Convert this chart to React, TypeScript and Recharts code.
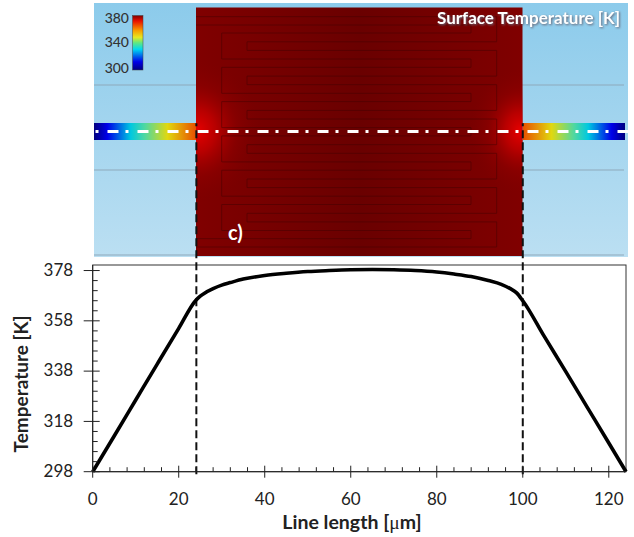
import React from "react";
import { ComposedChart, Line, XAxis, YAxis, ReferenceLine, Customized } from "recharts";

const lineLength = [0, 5, 10, 15, 20, 24, 25, 26, 28, 30, 32, 35, 40, 45, 50, 55, 60, 65, 70, 75, 80, 84, 88, 92, 95, 97, 98.5, 100, 105, 110, 115, 120, 124];
const temperature = [298, 312.2, 326.5, 340.8, 355, 366.2, 367.8, 369, 370.8, 372.2, 373.2, 374.6, 376, 376.9, 377.6, 378, 378.3, 378.4, 378.3, 378, 377.4, 376.6, 375.6, 374, 372.5, 370.9, 369.2, 366, 351.8, 337.8, 323.6, 309.4, 298];
const xTicks = [0, 4, 8, 12, 16, 20, 24, 28, 32, 36, 40, 44, 48, 52, 56, 60, 64, 68, 72, 76, 80, 84, 88, 92, 96, 100, 104, 108, 112, 116, 120];
const yTicks = [298, 302, 306, 310, 314, 318, 322, 326, 330, 334, 338, 342, 346, 350, 354, 358, 362, 366, 370, 374, 378];
const boundaries = [24.1, 100];
const colourbarLabels = ["380", "340", "300"];

const rows = lineLength.map((x, i) => ({ x, t: temperature[i] }));
const FONT = "Lato, 'Open Sans', sans-serif";

const XTick = ({ x, y, payload }: any) => {
  const major = payload.value % 20 === 0;
  return (
    <g>
      <line x1={x} x2={x} y1={major ? y - 6 : y - 4.5} y2={major ? y + 6 : y} stroke="#222" strokeWidth={1} />
      {major && (
        <text x={x} y={y + 33} textAnchor="middle" fontFamily={FONT} fontSize={17} fill="#222">
          {payload.value}
        </text>
      )}
    </g>
  );
};

const YTick = ({ x, y, payload }: any) => {
  const major = (payload.value - 298) % 20 === 0;
  return (
    <g>
      <line x1={major ? x - 9 : x} x2={x + (major ? 7 : 5)} y1={y} y2={y} stroke="#222" strokeWidth={1} />
      {major && (
        <text x={x - 19.5} y={y + 1} textAnchor="end" dominantBaseline="middle" fontFamily={FONT} fontSize={17} fill="#222">
          {payload.value}
        </text>
      )}
    </g>
  );
};

const Serpentine = () => {
  const s: React.ReactNode[] = [];
  const period = 34.3;
  const h = (y: number, a: number, b: number, k: string) => <line key={k} x1={a} x2={b} y1={y} y2={y} />;
  const v = (x: number, a: number, b: number, k: string) => <line key={k} x1={x} x2={x} y1={a} y2={b} />;
  s.push(h(16.7, 196, 496.7, "t1"), h(25, 196, 471, "t2"), h(238.7, 196, 471, "b1"), h(247, 196, 496.7, "b2"));
  s.push(v(496.7, 16.7, 41.7, "tv1"), v(471, 25, 33, "tv2"), v(496.7, 221.7, 247, "bv1"));
  for (let i = 0; i < 6; i++) {
    const o = i * period;
    s.push(h(33 + o, 221.7, 471, `a${i}`), h(59 + o, 221.7, 471, `b${i}`));
    s.push(h(41.8 + o, 247, 496.7, `c${i}`), h(50.4 + o, 247, 496.7, `d${i}`));
    s.push(v(221.7, 33 + o, 59 + o, `e${i}`), v(247, 41.8 + o, 50.4 + o, `f${i}`));
    s.push(v(471, 59 + o, 67.3 + o, `g${i}`));
    if (i < 5) s.push(v(496.7, 50.4 + o, 76.1 + o, `i${i}`));
  }
  return <g stroke="#3f0000" strokeWidth={0.8} opacity={0.6}>{s}</g>;
};

const Panel = () => (
  <g>
    <defs>
      <linearGradient id="sky" x1="0" x2="0" y1="0" y2="1">
        <stop offset="0" stopColor="#8ccbeb" />
        <stop offset="1" stopColor="#bbdff2" />
      </linearGradient>
      <linearGradient id="block" x1="0" x2="1" y1="0" y2="0">
        <stop offset="0" stopColor="#800000" />
        <stop offset="0.5" stopColor="#6a0000" />
        <stop offset="1" stopColor="#800000" />
      </linearGradient>
      <radialGradient id="glow">
        <stop offset="0" stopColor="#e80000" stopOpacity={1} />
        <stop offset="0.3" stopColor="#cc0000" stopOpacity={0.75} />
        <stop offset="0.65" stopColor="#a00000" stopOpacity={0.3} />
        <stop offset="1" stopColor="#850000" stopOpacity={0} />
      </radialGradient>
      <linearGradient id="jetL" x1="0" x2="1" y1="0" y2="0">
        <stop offset="0" stopColor="#00007f" />
        <stop offset="0.13" stopColor="#0000e8" />
        <stop offset="0.36" stopColor="#00c8e0" />
        <stop offset="0.5" stopColor="#50d8a0" />
        <stop offset="0.72" stopColor="#e0d810" />
        <stop offset="1" stopColor="#e85000" />
      </linearGradient>
      <linearGradient id="jetR" x1="1" x2="0" y1="0" y2="0">
        <stop offset="0" stopColor="#00007f" />
        <stop offset="0.13" stopColor="#0000e8" />
        <stop offset="0.36" stopColor="#00c8e0" />
        <stop offset="0.5" stopColor="#50d8a0" />
        <stop offset="0.72" stopColor="#e0d810" />
        <stop offset="1" stopColor="#e85000" />
      </linearGradient>
      <linearGradient id="jetBar" x1="0" x2="0" y1="0" y2="1">
        <stop offset="0" stopColor="#7f0000" />
        <stop offset="0.1" stopColor="#e81000" />
        <stop offset="0.28" stopColor="#f8a000" />
        <stop offset="0.4" stopColor="#e8e820" />
        <stop offset="0.5" stopColor="#60e880" />
        <stop offset="0.62" stopColor="#00d8f0" />
        <stop offset="0.85" stopColor="#0000e8" />
        <stop offset="1" stopColor="#00007f" />
      </linearGradient>
      <clipPath id="blockClip">
        <rect x={196} y={7.5} width={326.5} height={248.5} />
      </clipPath>
    </defs>
    <rect x={94} y={3} width={534} height={254} fill="url(#sky)" />
    {[85, 170, 255].map((y) => (
      <line key={y} x1={94} x2={624} y1={y} y2={y} stroke="#8ea9bb" strokeWidth={1} />
    ))}
    <rect x={94} y={123} width={102} height={17} fill="url(#jetL)" />
    <rect x={523} y={123} width={102} height={17} fill="url(#jetR)" />
    <rect x={196} y={7.5} width={326.5} height={248.5} fill="url(#block)" />
    <g clipPath="url(#blockClip)">
      <ellipse cx={197} cy={131} rx={62} ry={70} fill="url(#glow)" />
      <ellipse cx={520} cy={131} rx={50} ry={62} fill="url(#glow)" />
    </g>
    <Serpentine />
    <rect x={132.5} y={15.5} width={10.5} height={54.5} fill="url(#jetBar)" stroke="#444" strokeWidth={0.5} />
    {colourbarLabels.map((label, i) => (
      <text key={label} x={129} y={[19, 43, 69][i]} textAnchor="end" dominantBaseline="middle" fontFamily={FONT} fontSize={14} fontWeight={500} fill="#333">
        {label}
      </text>
    ))}
    <text x={620} y={20} textAnchor="end" dominantBaseline="middle" fontFamily={FONT} fontSize={17} fontWeight={700} fill="#fff" style={{ filter: "drop-shadow(1px 1px 1px #667)" }}>
      Surface Temperature [K]
    </text>
    <text x={228} y={235} dominantBaseline="middle" fontFamily={FONT} fontSize={20} fontWeight={700} fill="#fff">
      c)
    </text>
    <rect x={92.7} y={265} width={533.3} height={206.7} fill="none" stroke="#333" strokeWidth={1} />
    <text x={352} y={529} textAnchor="middle" fontFamily={FONT} fontSize={19.5} fontWeight={700} fill="#222">
      Line length [<tspan fontFamily="'Liberation Serif', serif" fontWeight={400}>μ</tspan>m]
    </text>
    <text transform="translate(27.5,384) rotate(-90)" textAnchor="middle" fontFamily={FONT} fontSize={19} fontWeight={700} fill="#222">
      Temperature [K]
    </text>
  </g>
);

const DashDot = () => (
  <line x1={95.5} x2={628} y1={131.5} y2={131.5} stroke="#fff" strokeWidth={3} strokeDasharray="3 9 11 7" />
);

export default function App() {
  return (
    <div style={{ position: "absolute", left: 0, top: 0, width: 634, height: 537 }}>
      <ComposedChart width={634} height={537} data={rows} margin={{ top: 265, right: 8, bottom: 0, left: 0 }}>
        <Customized component={Panel} />
        <XAxis dataKey="x" type="number" domain={[0, 124]} ticks={xTicks} interval={0} height={65.3} tickSize={0} tickMargin={0} axisLine={{ stroke: "#222" }} tickLine={false} tick={<XTick />} />
        <YAxis type="number" domain={[298, 380.2]} ticks={yTicks} interval={0} width={92.7} tickSize={0} tickMargin={0} axisLine={{ stroke: "#222" }} tickLine={false} tick={<YTick />} />
        {boundaries.map((b) => (
          <ReferenceLine key={b} segment={[{ x: b, y: 297 }, { x: b, y: 436.6 }]} ifOverflow="visible" stroke="#111" strokeWidth={2} strokeDasharray="8 4" />
        ))}
        <Line dataKey="t" type="monotone" stroke="#000" strokeWidth={3.6} dot={false} isAnimationActive={false} />
        <Customized component={DashDot} />
      </ComposedChart>
    </div>
  );
}
